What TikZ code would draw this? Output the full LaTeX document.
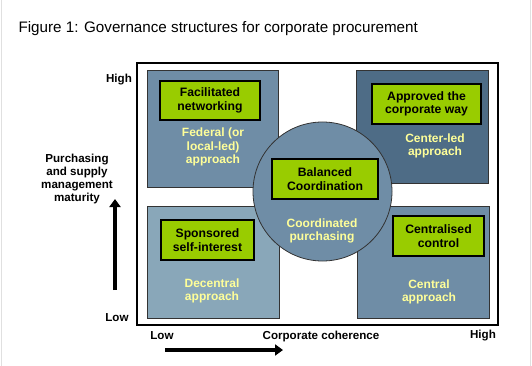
\documentclass[tikz,border=0pt]{standalone}
\usepackage{fontspec}
\setmainfont{Liberation Sans}
\usetikzlibrary{arrows.meta}
\definecolor{midblue}{HTML}{6F8DA6}
\definecolor{darkblue}{HTML}{4E6C86}
\definecolor{lightblue}{HTML}{89A7B9}
\definecolor{boxgreen}{HTML}{99CC00}
\definecolor{paleyellow}{HTML}{FFFF99}
\tikzset{
  quad/.style={draw=black!80, line width=0.8pt},
  greenbox/.style={draw=black, line width=1.6pt, fill=boxgreen, inner sep=0pt, align=center,
     font=\fontsize{12.2}{13.6}\selectfont\bfseries},
  ylabel/.style={text=paleyellow, align=center, font=\fontsize{12}{13.6}\selectfont\bfseries},
  axislabel/.style={align=center, font=\fontsize{11.6}{13}\selectfont\bfseries},
  bigarrow/.style={line width=3.6pt, -{Triangle[length=8pt,width=11pt]}}
}
\begin{document}
\begin{tikzpicture}[x=1pt,y=-1pt]
\useasboundingbox (0,0) rectangle (532,366);
\draw[black!12, line width=0.8pt] (1,0) -- (1,366);
\draw[black!12, line width=0.8pt] (530.5,0) -- (530.5,366);
\node[anchor=base west, font=\fontsize{15.2}{17}\selectfont] (title) at (15,33) {Figure 1: Governance structures for corporate procurement};
% outer frame
\draw[line width=2.6pt] (137,63) rectangle (498,325);
% quadrants
\draw[quad, fill=midblue] (147,70) rectangle (278,187);
\draw[quad, fill=darkblue] (356,70) rectangle (488,183);
\draw[quad, fill=lightblue] (147,206) rectangle (279,318);
\draw[quad, fill=midblue] (357,206) rectangle (489,318);
% circle
\draw[draw=black!80, line width=0.8pt, fill=midblue] (322.5,191.5) circle (69.5);
% green boxes
\node[greenbox, minimum width=100pt, minimum height=39pt] (fn) at (210,100.5) {Facilitated\\networking};
\node[greenbox, minimum width=109pt, minimum height=40pt] (ac) at (426.5,104) {Approved the\\corporate way};
\node[greenbox, minimum width=93pt, minimum height=40pt] (ss) at (207.5,240) {Sponsored\\self-interest};
\node[greenbox, minimum width=91pt, minimum height=40pt] (cc) at (438.5,236) {Centralised\\control};
\node[greenbox, minimum width=106pt, minimum height=40pt] (bc) at (325,179) {Balanced\\Coordination};
% yellow labels
\node[ylabel] (fed) at (213,147) {Federal (or\\local-led)\\approach};
\node[ylabel] (cl) at (435,146) {Center-led\\approach};
\node[ylabel] (dec) at (212,291) {Decentral\\approach};
\node[ylabel] (cen) at (429,292) {Central\\approach};
\node[ylabel] (cp) at (322,231) {Coordinated\\purchasing};
% axes
\node[axislabel] (yhigh) at (119,80) {High};
\node[axislabel] (ylow) at (117,318) {Low};
\node[axislabel] (ytitle) at (77,179) {Purchasing\\and supply\\management\\maturity};
\node[axislabel] (xlow) at (162,336) {Low};
\node[axislabel] (xtitle) at (321,336) {Corporate coherence};
\node[axislabel] (xhigh) at (483,336) {High};
\coordinate (ya) at (115,290);
\coordinate (yb) at (115,199);
\coordinate (xa) at (165,350);
\coordinate (xb) at (283,350);
\draw[bigarrow] (ya) -- (yb);
\draw[bigarrow] (xa) -- (xb);
\end{tikzpicture}
\end{document}
